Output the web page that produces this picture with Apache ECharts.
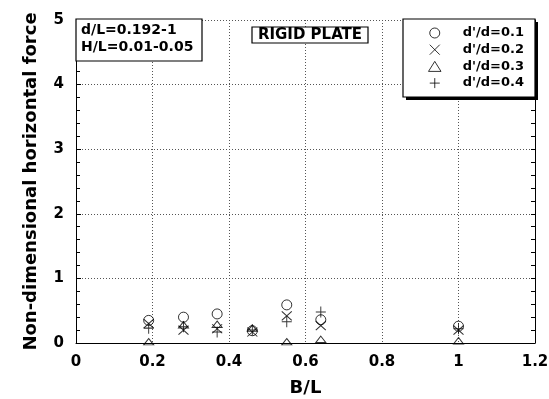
<!DOCTYPE html>
<html>
<head>
<meta charset="utf-8">
<script src="https://cdn.jsdelivr.net/npm/echarts@6/dist/echarts.min.js"></script>
<style>html,body{margin:0;padding:0;background:#fff}#c{width:549px;height:399px}</style>
</head>
<body>
<div id="c"></div>
<script>
// B/L positions of each measurement group
const bl = [0.19, 0.281, 0.369, 0.461, 0.551, 0.640, 1.0];
// Non-dimensional horizontal force for each d'/d
const f01 = [0.35, 0.40, 0.45, 0.19, 0.59, 0.36, 0.26];
const f02 = [0.30, 0.20, 0.22, 0.17, 0.42, 0.27, 0.20];
const f03 = [0.02, 0.28, 0.29, 0.23, 0.02, 0.057, 0.035];
const f04 = [0.23, 0.25, 0.17, 0.20, 0.33, 0.48, 0.22];
const seriesNames = ["d'/d=0.1", "d'/d=0.2", "d'/d=0.3", "d'/d=0.4"];
const xTicks = ['0', '0.2', '0.4', '0.6', '0.8', '1', '1.2'];

const FONT = 'DejaVu Sans';
const crossPath = 'path://M0,0L10,10M10,0L0,10';
const plusPath = 'path://M5,0L5,10M0,5L10,5';
const triPath = 'path://M5,0L10,8L0,8Z';
const symbols = ['circle', crossPath, triPath, plusPath];
const sizes = [10, [10, 9], [10, 8], [10, 11]];
const vals = [f01, f02, f03, f04];

const markStyle = {color: 'rgba(0,0,0,0)', borderColor: '#000', borderWidth: 1};

const chart = echarts.init(document.getElementById('c'), null, {renderer: 'canvas'});
const series = seriesNames.map((n, i) => ({
  name: n,
  type: 'scatter',
  symbol: symbols[i],
  symbolSize: sizes[i],
  symbolKeepAspect: true,
  itemStyle: markStyle,
  z: 5,
  data: bl.map((x, j) => [x, vals[i][j]])
}));

const tickAxis = (pos) => ({
  type: 'value', min: 0, max: 5, interval: 0.2, position: pos, offset: 0,
  axisLine: {show: pos === 'right', onZero: false, lineStyle: {color: '#000', width: 1}},
  axisTick: {show: true, inside: true, length: 4, lineStyle: {color: '#000', width: 1}},
  axisLabel: {show: false},
  splitLine: {show: false}
});

chart.setOption({
  animation: false,
  backgroundColor: '#fff',
  grid: {left: 76, right: 14, top: 20, bottom: 56, containLabel: false, outerBoundsMode: 'none'},
  xAxis: {
    type: 'value', min: 0, max: 1.2, interval: 0.2,
    name: 'B/L', nameLocation: 'middle', nameGap: 36,
    nameTextStyle: {fontFamily: FONT, fontWeight: 'bold', fontSize: 18, color: '#000'},
    axisLine: {show: true, onZero: false, lineStyle: {color: '#000', width: 1}},
    axisTick: {show: false},
    axisLabel: {fontFamily: FONT, fontWeight: 'bold', fontSize: 15, color: '#000', margin: 12,
      formatter: (v) => xTicks[Math.round(v / 0.2)]},
    splitLine: {show: true, lineStyle: {color: '#555', type: [1, 2], width: 1}}
  },
  yAxis: [{
    type: 'value', min: 0, max: 5, interval: 1,
    name: 'Non-dimensional horizontal force', nameLocation: 'middle', nameGap: 36,
    nameTextStyle: {fontFamily: FONT, fontWeight: 'bold', fontSize: 18, color: '#000'},
    axisLine: {show: true, onZero: false, lineStyle: {color: '#000', width: 1}},
    axisTick: {show: true, inside: true, length: 5, lineStyle: {color: '#000'}},
    axisLabel: {fontFamily: FONT, fontWeight: 'bold', fontSize: 15, color: '#000', margin: 12},
    splitLine: {show: true, lineStyle: {color: '#555', type: [1, 2], width: 1}}
  }, tickAxis('right'), tickAxis('left')],
  legend: {
    orient: 'vertical', left: 428, top: 26, padding: 0, z: 100,
    itemWidth: 46, itemHeight: 10, itemGap: 2.7,
    selectedMode: false, symbolKeepAspect: true,
    textStyle: {fontFamily: FONT, fontWeight: 'bold', fontSize: 13, color: '#000', lineHeight: 14},
    itemStyle: {borderWidth: 1, borderColor: '#000', color: 'rgba(0,0,0,0)'},
    data: seriesNames.map((n, i) => ({name: n, icon: symbols[i]}))
  },
  graphic: [
    {type: 'rect', shape: {x: 406, y: 22, width: 132, height: 78}, style: {fill: '#000'}, z: 90},
    {type: 'rect', shape: {x: 403, y: 19, width: 132, height: 78}, style: {fill: '#fff', stroke: '#000', lineWidth: 1.2}, z: 91},
    {type: 'rect', shape: {x: 76, y: 19, width: 126, height: 42}, style: {fill: '#fff', stroke: '#000', lineWidth: 1.2}, z: 91},
    {type: 'text', x: 81, y: 30, z: 92, style: {text: 'd/L=0.192-1', fontFamily: FONT, fontWeight: 'bold', fontSize: 14, fill: '#000', verticalAlign: 'middle'}},
    {type: 'text', x: 81, y: 47, z: 92, style: {text: 'H/L=0.01-0.05', fontFamily: FONT, fontWeight: 'bold', fontSize: 14, fill: '#000', verticalAlign: 'middle'}},
    {type: 'rect', shape: {x: 252, y: 27, width: 116, height: 16}, style: {fill: '#fff', stroke: '#000', lineWidth: 1.2}, z: 91},
    {type: 'text', x: 310, y: 35.5, z: 92, style: {text: 'RIGID PLATE', fontFamily: FONT, fontWeight: 'bold', fontSize: 15, fill: '#000', align: 'center', verticalAlign: 'middle'}}
  ],
  series: series
});
</script>
</body>
</html>
